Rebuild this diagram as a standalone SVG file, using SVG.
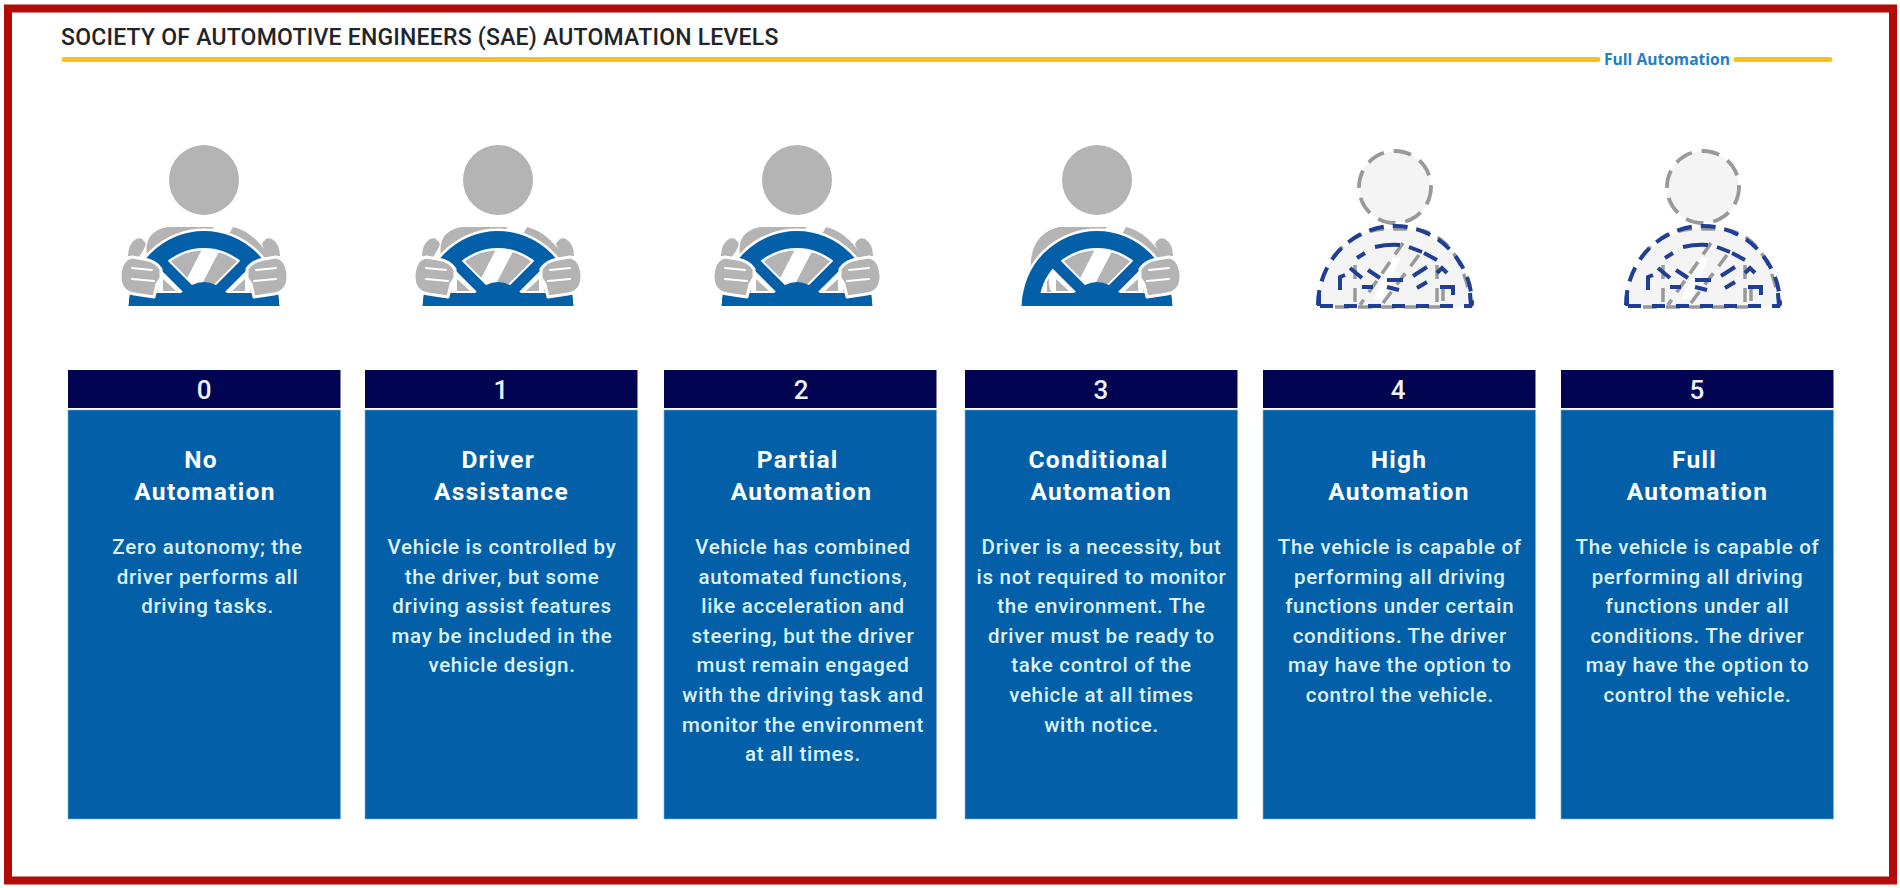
<svg xmlns="http://www.w3.org/2000/svg" xmlns:xlink="http://www.w3.org/1999/xlink" width="1900" height="888" viewBox="0 0 1900 888">
<style>
text{font-family:Roboto,"Liberation Sans",sans-serif;text-anchor:middle}
.title{font-size:23px;font-weight:500;fill:#222428;text-anchor:start;letter-spacing:.22px}
.fa{font-size:15.6px;font-weight:700;fill:#1f7fc2;font-family:"Open Sans","Liberation Sans",sans-serif}
.num{font-size:26px;font-weight:500;fill:#eef2fa;letter-spacing:.5px}
.h{font-size:24.5px;font-weight:700;fill:#fff;letter-spacing:1.3px}
.b{font-size:20.5px;font-weight:500;fill:#dbf1fb;letter-spacing:.7px}
.hd{fill:#010450}
.bd{fill:#0360a8;stroke:#7fb2d8;stroke-width:.6}
.y{stroke:#f6c222;stroke-width:5;stroke-linecap:round;fill:none}
.g{fill:#b4b4b4}
.hand{fill:#b4b4b4;stroke:#fff;stroke-width:3;stroke-linejoin:round}
.f{stroke:#fff;stroke-width:2;fill:none;stroke-linecap:round}
.dg{fill:none;stroke:#999;stroke-width:3.5;stroke-dasharray:14 9}
.dh{fill:none;stroke:#999;stroke-width:3.8;stroke-dasharray:18 10}
.db{fill:none;stroke:#1f3f94;stroke-width:4;stroke-dasharray:15 9}
.dt{fill:none;stroke:#1f3f94;stroke-width:4;stroke-dasharray:13 11}
.ds{fill:none;stroke:#1f3f94;stroke-width:4}
.pale{fill:#f4f4f4}
</style>
<defs>
<g id="base">
<circle class="g" cx="0" cy="-126" r="35"/>
<path class="g" d="M-37,-79H11L-18,-14H-50V-30Q-70,-72-37,-79Z"/>
<path class="g" d="M29,-79Q52,-74 70,-42L50,-14H-8Z"/>
</g>
<g id="ringpart">
<path d="M-75,0A75,75 0 0 1 75,0H58A58,58 0 0 0 -58,0Z" fill="none" stroke="#fff" stroke-width="5"/>
<path d="M-46,-14Q-52,-30 -42,-40L-16,-14Z M46,-14Q52,-30 42,-40L16,-14Z" fill="#fff"/>
<path class="g" d="M-41,-15V-27L-28,-15Z M41,-15V-27L28,-15Z"/>
<path d="M-46,-47L-13,-14M46,-47L13,-14" stroke="#fff" stroke-width="15" fill="none"/>
<path d="M-75,0A75,75 0 0 1 75,0H58A58,58 0 0 0 -58,0Z" fill="#0360a8"/>
<path d="M-46,-47L-13,-14M46,-47L13,-14" stroke="#0360a8" stroke-width="11" fill="none"/>
<path fill="#0360a8" d="M-74,-13H74L75.500,0H-75.500Z"/>
<path fill="#0360a8" d="M-24,-12Q0,-36 24,-12Z"/>
</g>
<g id="rh">
<path class="g" d="M58,-62Q62,-70 68,-67Q76,-62 76,-50L66,-48Q60,-55 58,-62Z"/>
<path class="hand" d="M43,-37Q48,-45 60,-47L72,-49Q83,-47 84,-30Q84,-14 70,-12L50,-9L47,-22L43,-28Z"/>
<path class="f" d="M52,-36L72,-38M50,-25L72,-27"/>
</g>
<g id="belt"><path fill="#fff" d="M11,-82H29L-6,-14H-24Z"/></g>
<g id="both">
<use xlink:href="#base"/>
<use xlink:href="#belt"/>
<use xlink:href="#ringpart"/>
<use xlink:href="#rh"/>
<use xlink:href="#rh" transform="scale(-1,1)"/>
</g>
<g id="dash">
<path class="pale" d="M-77,0A77,79 0 0 1 77,0Z"/>
<circle class="pale" cx="0" cy="-120" r="36"/>
<circle class="dh" cx="0" cy="-120" r="36"/>
<path d="M-2,-49H5L-12,-8H-22Z" fill="#fff"/>
<path class="dg" d="M-62,-50Q-40,-77 -10,-78H20Q48,-74 62,-48Q72,-30 77,0M-40,-42V0M42,-42V0M48,-20V0M-60,0H45"/>
<path class="dg" d="M8,-64L-35,-2M24,-52L-15,0"/>
<path class="db" d="M-77,-2A77,79 0 0 1 77,-2"/>
<path class="dt" d="M-75,-1H77"/>
<path class="ds" d="M-76,-14V-1M-38,-49L-30,-54M-20,-60Q-7,-63 5,-62M14,-60L27,-55M29,-54L42,-47M-45,-39L-33,-29M-27,-37L-15,-29M18,-31L32,-40M22,-19L32,-25M-55,-17V-30L-50,-32M42,-34L47,-39L52,-34M-33,-20H-22M-8,-27L8,-27M45,-20H58V-12M-8,-20L4,-17M75,-14L76,-1"/>
</g>
</defs>

<rect x="8" y="8.500" width="1885" height="872" fill="#fff" stroke="#b50a0a" stroke-width="8"/>

<g id="header">
<text class="title" x="61" y="45">SOCIETY OF AUTOMOTIVE ENGINEERS (SAE) AUTOMATION LEVELS</text>
<path class="y" d="M64,59.500H1598M1736,59.500H1830"/>
<text class="fa" x="1667" y="65">Full Automation</text>
</g>

<g id="icons">
<use xlink:href="#both" x="204" y="306"/>
<use xlink:href="#both" x="498" y="306"/>
<use xlink:href="#both" x="797" y="306"/>
<g transform="translate(1097,306)">
<use xlink:href="#base"/>
<path class="g" d="M-37,-79H11L-20,-40L-66,-30Q-70,-72-37,-79Z"/>
<use xlink:href="#belt"/>
<use xlink:href="#ringpart"/>
<use xlink:href="#rh"/>
</g>
<use xlink:href="#dash" x="1395" y="307"/>
<use xlink:href="#dash" x="1703" y="307"/>
</g>

<g id="level-0">
<rect class="hd" x="68" y="370" width="272.500" height="38"/><rect class="bd" x="68" y="410" width="272.500" height="409"/>
<text class="num" x="204.500" y="399">0</text>
<text class="h" x="201" y="468">No</text><text class="h" x="205" y="500">Automation</text>
<text class="b"><tspan x="207.500" y="554">Zero autonomy; the</tspan><tspan x="207.500" y="584">driver performs all</tspan><tspan x="207.500" y="613">driving tasks.</tspan></text>
</g>
<g id="level-1">
<rect class="hd" x="365" y="370" width="272.500" height="38"/><rect class="bd" x="365" y="410" width="272.500" height="409"/>
<text class="num" x="501.200" y="399">1</text>
<text class="h" x="498.200" y="468">Driver</text><text class="h" x="501.500" y="500">Assistance</text>
<text class="b"><tspan x="502" y="554">Vehicle is controlled by</tspan><tspan x="502" y="584">the driver, but some</tspan><tspan x="502" y="613">driving assist features</tspan><tspan x="502" y="643">may be included in the</tspan><tspan x="502" y="672">vehicle design.</tspan></text>
</g>
<g id="level-2">
<rect class="hd" x="664" y="370" width="272.500" height="38"/><rect class="bd" x="664" y="410" width="272.500" height="409"/>
<text class="num" x="801.500" y="399">2</text>
<text class="h" x="797.700" y="468">Partial</text><text class="h" x="801.500" y="500">Automation</text>
<text class="b"><tspan x="803" y="554">Vehicle has combined</tspan><tspan x="803" y="584">automated functions,</tspan><tspan x="803" y="613">like acceleration and</tspan><tspan x="803" y="643">steering, but the driver</tspan><tspan x="803" y="672">must remain engaged</tspan><tspan x="803" y="702">with the driving task and</tspan><tspan x="803" y="732">monitor the environment</tspan><tspan x="803" y="761">at all times.</tspan></text>
</g>
<g id="level-3">
<rect class="hd" x="965" y="370" width="272.500" height="38"/><rect class="bd" x="965" y="410" width="272.500" height="409"/>
<text class="num" x="1101.200" y="399">3</text>
<text class="h" x="1098.500" y="468">Conditional</text><text class="h" x="1101.200" y="500">Automation</text>
<text class="b"><tspan x="1101.500" y="554">Driver is a necessity, but</tspan><tspan x="1101.500" y="584">is not required to monitor</tspan><tspan x="1101.500" y="613">the environment. The</tspan><tspan x="1101.500" y="643">driver must be ready to</tspan><tspan x="1101.500" y="672">take control of the</tspan><tspan x="1101.500" y="702">vehicle at all times</tspan><tspan x="1101.500" y="732">with notice.</tspan></text>
</g>
<g id="level-4">
<rect class="hd" x="1263" y="370" width="272.500" height="38"/><rect class="bd" x="1263" y="410" width="272.500" height="409"/>
<text class="num" x="1398.500" y="399">4</text>
<text class="h" x="1399" y="468">High</text><text class="h" x="1399" y="500">Automation</text>
<text class="b"><tspan x="1399.800" y="554">The vehicle is capable of</tspan><tspan x="1399.800" y="584">performing all driving</tspan><tspan x="1399.800" y="613">functions under certain</tspan><tspan x="1399.800" y="643">conditions. The driver</tspan><tspan x="1399.800" y="672">may have the option to</tspan><tspan x="1399.800" y="702">control the vehicle.</tspan></text>
</g>
<g id="level-5">
<rect class="hd" x="1561" y="370" width="272.500" height="38"/><rect class="bd" x="1561" y="410" width="272.500" height="409"/>
<text class="num" x="1697.200" y="399">5</text>
<text class="h" x="1694.500" y="468">Full</text><text class="h" x="1697.500" y="500">Automation</text>
<text class="b"><tspan x="1697.500" y="554">The vehicle is capable of</tspan><tspan x="1697.500" y="584">performing all driving</tspan><tspan x="1697.500" y="613">functions under all</tspan><tspan x="1697.500" y="643">conditions. The driver</tspan><tspan x="1697.500" y="672">may have the option to</tspan><tspan x="1697.500" y="702">control the vehicle.</tspan></text>
</g>
</svg>
